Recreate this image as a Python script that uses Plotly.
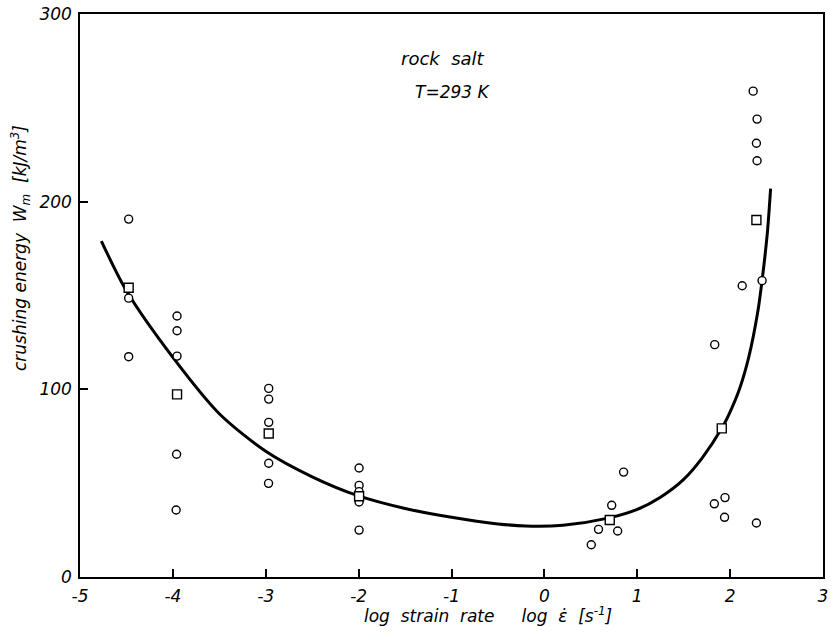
import plotly.graph_objects as go

# measured data points (open circles)
circle_x = [-4.476, -4.476, -4.476,
            -3.955, -3.955, -3.955, -3.960, -3.965,
            -2.968, -2.968, -2.968, -2.968, -2.970,
            -1.995, -1.995, -1.995, -1.995, -1.995,
            0.853, 0.725, 0.583, 0.789, 0.505,
            1.830, 1.945, 1.940, 2.283,
            1.834, 2.130, 2.344,
            2.248, 2.290, 2.283, 2.290]
circle_y = [190.7, 148.6, 117.4,
            139.1, 131.2, 117.7, 65.4, 35.7,
            100.5, 94.8, 82.4, 60.6, 49.9,
            58.1, 48.8, 45.5, 40.0, 25.0,
            55.9, 38.2, 25.4, 24.5, 17.2,
            39.0, 42.3, 31.8, 28.8,
            123.8, 155.2, 157.9,
            258.9, 244.0, 231.1, 221.8]

# mean values (open squares)
square_x = [-4.476, -3.955, -2.968, -1.995, 0.704, 1.910, 2.283]
square_y = [154.1, 97.3, 76.5, 43.0, 30.4, 79.2, 190.2]

# fitted curve
curve_x = [-4.77, -4.5, -4.0, -3.5, -3.0, -2.5, -2.0, -1.5, -1.0, -0.5, -0.2,
           0.2, 0.7, 1.0, 1.25, 1.5, 1.7, 1.91, 2.0, 2.1, 2.2, 2.3, 2.344, 2.4, 2.436]
curve_y = [179, 152.5, 117, 87, 67, 53.4, 43.2, 36.5, 31.8, 28.3, 27.2,
           27.6, 31.5, 36, 42.5, 52, 63.5, 79.2, 88, 100, 117, 142, 158, 183, 207]

x_ticks = [-5, -4, -3, -2, -1, 0, 1, 2, 3]
y_ticks = [0, 100, 200, 300]

FONT = "DejaVu Sans"

fig = go.Figure()
fig.add_trace(go.Scatter(x=curve_x, y=curve_y, mode="lines",
                         line=dict(color="black", width=3, shape="spline", smoothing=0.8),
                         hoverinfo="skip"))
fig.add_trace(go.Scatter(x=circle_x, y=circle_y, mode="markers",
                         marker=dict(symbol="circle", size=8, color="white",
                                     line=dict(color="black", width=1.4))))
fig.add_trace(go.Scatter(x=square_x, y=square_y, mode="markers",
                         marker=dict(symbol="square", size=9, color="white",
                                     line=dict(color="black", width=1.4))))

axis_common = dict(showgrid=False, zeroline=False, showline=True, linecolor="black",
                   linewidth=1.5, mirror=True, ticks="inside", ticklen=8, tickwidth=1.5,
                   tickcolor="black", ticklabeloverflow="allow",
                   tickfont=dict(family=FONT, size=17, color="black", style="italic"))

fig.update_xaxes(range=[-5, 3], tickvals=x_ticks, ticktext=[str(v) for v in x_ticks],
                 ticklabelstandoff=3, **axis_common)
fig.update_yaxes(range=[0, 300], tickvals=y_ticks, ticktext=[str(v) for v in y_ticks],
                 ticklabelstandoff=3, **axis_common)

annots = [
    dict(text="rock  salt", x=(445 - 80) / 748, y=(577 - 59) / 563, size=18),
    dict(text="T=293 K", x=(455 - 80) / 748, y=(577 - 92) / 563, size=17),
]
ann = []
for a in annots:
    ann.append(dict(text=a["text"], x=a["x"], y=a["y"], xref="paper", yref="paper",
                    showarrow=False, xanchor="center", yanchor="middle",
                    font=dict(family=FONT, size=a["size"], color="black", style="italic")))
ann.append(dict(text="log  strain  rate     log  ε\u0307  [s<sup>-1</sup>]",
                x=(491 - 80) / 748, y=0, yshift=-38, xref="paper", yref="paper",
                showarrow=False, xanchor="center", yanchor="middle",
                font=dict(family=FONT, size=17, color="black", style="italic")))
ann.append(dict(text="crushing energy  W<sub>m</sub>  [kJ/m<sup>3</sup>]",
                x=0, xshift=-60, y=(577 - 248) / 563, xref="paper", yref="paper",
                textangle=-90, showarrow=False, xanchor="center", yanchor="middle",
                font=dict(family=FONT, size=17, color="black", style="italic")))

fig.update_layout(width=831, height=635, margin=dict(l=80, r=3, t=14, b=58),
                  paper_bgcolor="white", plot_bgcolor="white", showlegend=False,
                  annotations=ann)

fig.write_html("out.html")
